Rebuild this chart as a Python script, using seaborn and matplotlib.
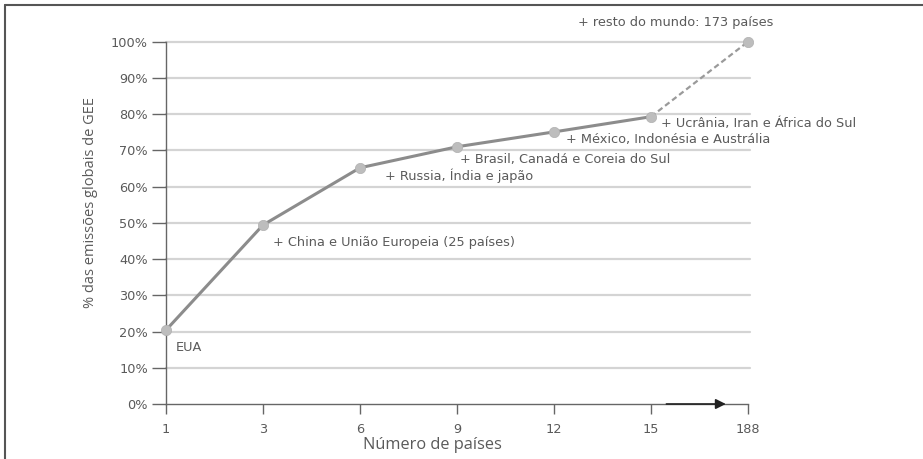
import pandas as pd
import matplotlib.pyplot as plt
import seaborn as sns
from matplotlib.lines import Line2D

# Data
paises = ['1', '3', '6', '9', '12', '15', '188']
emissoes = [20.4, 49.4, 65.2, 71.0, 75.1, 79.3, 100.0]
notas = ['EUA',
         '+ China e União Europeia (25 países)',
         '+ Russia, Índia e japão',
         '+ Brasil, Canadá e Coreia do Sul',
         '+ México, Indonésia e Austrália',
         '+ Ucrânia, Iran e África do Sul',
         '+ resto do mundo: 173 países']
y_ticks = [0, 10, 20, 30, 40, 50, 60, 70, 80, 90, 100]

# offsets of the notes from their points, in pixels (dx, dy, ha)
offsets = [(10, -17, 'left'), (10, -17, 'left'), (25, -8, 'left'),
           (3, -13, 'left'), (12, -8, 'left'), (10, -7, 'left'),
           (-72, 19, 'center')]

sns.set_theme(style='white')
plt.rcParams['font.family'] = ['DejaVu Sans']

df = pd.DataFrame({'pos': range(len(paises)), 'pct': emissoes})
solid = df.iloc[:-1]
dashed = df.iloc[-2:]

fig = plt.figure(figsize=(9.23, 4.59), dpi=100)
ax = fig.add_axes([166 / 923, 1 - 404 / 459, (748 - 166) / 923, (404 - 41.7) / 459])

text_c = '#5a5a5a'
for t in y_ticks[1:]:
    ax.axhline(t, color='#d4d4d4', lw=1.6, zorder=0, xmax=1.003, clip_on=False)

sns.lineplot(data=solid, x='pos', y='pct', ax=ax, color='#8c8c8c', lw=2.2, zorder=2)
sns.lineplot(data=dashed, x='pos', y='pct', ax=ax, color='#9a9a9a', lw=1.6,
             linestyle=(0, (2.5, 1.5)), zorder=2)
sns.scatterplot(data=df, x='pos', y='pct', ax=ax, color='#bdbdbd', s=55,
                edgecolor='#b0b0b0', linewidth=0.5, zorder=3, clip_on=False)

for (px, py, nota, (dx, dy, ha)) in zip(df['pos'], df['pct'], notas, offsets):
    ax.annotate(nota, (px, py), xytext=(dx, dy), textcoords='offset pixels',
                ha=ha, va='center', fontsize=9.3, color=text_c)

# arrow between 15 and 188
ax.annotate('', xy=(5.8, 0), xytext=(5.13, 0),
            arrowprops=dict(arrowstyle='-|>', color='#222222', lw=1.2,
                            mutation_scale=15),
            annotation_clip=False)

ax.set_xlim(0, len(paises) - 1)
ax.set_ylim(0, 100)
ax.set_xticks(df['pos'])
ax.set_xticklabels(paises)
ax.set_yticks(y_ticks)
ax.set_yticklabels([f'{t}%' for t in y_ticks])
ax.tick_params(axis='both', which='both', direction='out', width=1,
               color='#666666', labelcolor=text_c, labelsize=9.3, left=True, bottom=True)
ax.tick_params(axis='y', length=10, pad=3)
ax.tick_params(axis='x', length=7, pad=7)
for side in ['top', 'right']:
    ax.spines[side].set_visible(False)
for side in ['left', 'bottom']:
    ax.spines[side].set_color('#666666')
    ax.spines[side].set_linewidth(1)

ax.set_xlabel('Número de países', fontsize=11.8, color=text_c, family='Open Sans')
ax.set_ylabel('% das emissões globais de GEE', fontsize=10.5, color=text_c, family='Open Sans')
ax.xaxis.set_label_coords((432 - 166) / 582, -(437 - 404) / 362.3)
ax.yaxis.set_label_coords((98 - 166) / 582, (404 - 203) / 362.3)

# frame lines on left and top of the picture
fig.add_artist(Line2D([4.5 / 923, 4.5 / 923], [0, 1 - 5 / 459], color='#555555', lw=1.5))
fig.add_artist(Line2D([4.5 / 923, 1], [1 - 5 / 459, 1 - 5 / 459], color='#555555', lw=1.5))

plt.savefig('out.png', dpi=100)
plt.close()
